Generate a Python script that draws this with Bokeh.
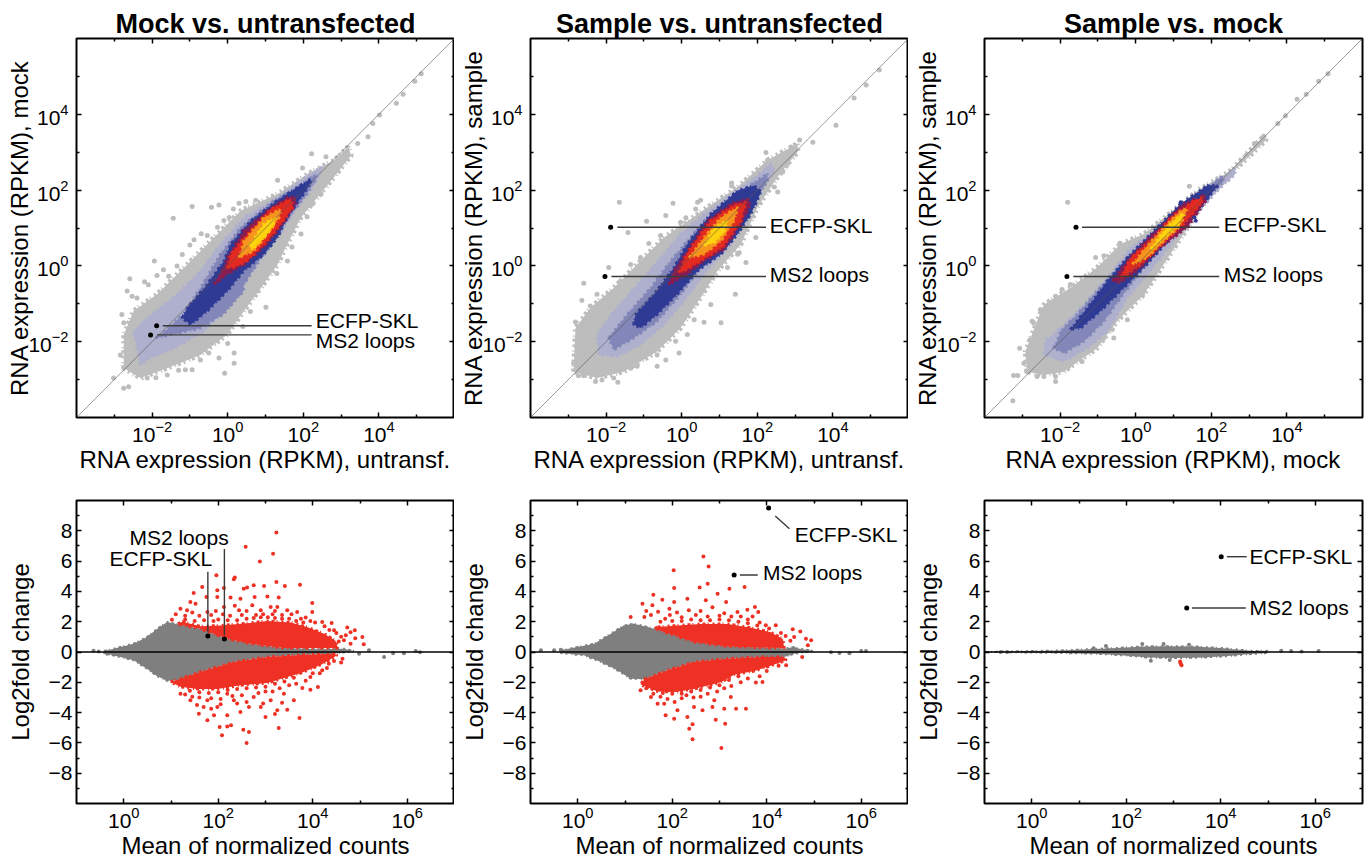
from bokeh.plotting import figure
from bokeh.layouts import column, row
from bokeh.models import LogAxis, LinearAxis, FixedTicker, LogTickFormatter, CustomJSTickFormatter
from bokeh.core.properties import value
from bokeh.embed import file_html
from bokeh.resources import INLINE

# ---- titles and labels
TITLES = ["Mock vs. untransfected", "Sample vs. untransfected", "Sample vs. mock"]
TOP_XLABELS = ["RNA expression (RPKM), untransf.", "RNA expression (RPKM), untransf.", "RNA expression (RPKM), mock"]
TOP_YLABELS = ["RNA expression (RPKM), mock", "RNA expression (RPKM), sample", "RNA expression (RPKM), sample"]
MA_XLABEL = "Mean of normalized counts"
MA_YLABEL = "Log2fold change"
LOG_MAJOR_TOP = [1e-2, 1e0, 1e2, 1e4]
LOG_MINOR_TOP = [1e-3, 1e-1, 1e1, 1e3, 1e5]
LOG_MAJOR_MA = [1e0, 1e2, 1e4, 1e6]
LOG_MINOR_MA = [1e1, 1e3, 1e5]
LFC_MAJOR = [-8, -6, -4, -2, 0, 2, 4, 6, 8]
LFC_MINOR = [-9, -7, -5, -3, -1, 1, 3, 5, 7, 9]

# ---- density bands of the expression scatter: outlines, (log10 x, log10 y)
BAND_COLORS = ["#bdbdbd", "#aeb0cd", "#8286b8", "#2f3a94", "#8a1d50", "#e32a20", "#f6941d", "#fdd20e"]

P1_BANDS = [
 [(-2.75,-2.70),(-2.75,-1.81),(-2.49,-1.19),(-1.87,-0.75),(-1.07,0.04),(-0.36,0.75),(0.35,1.46),(1.32,1.90),(2.12,2.43),(2.82,2.79),(3.18,3.14),(3.27,2.92),(2.82,2.35),(2.38,1.81),(1.94,1.28),(1.58,0.58),(1.32,0.04),(0.88,-0.58),(0.43,-1.19),(-0.01,-1.81),(-0.72,-2.35),(-1.60,-2.70),(-2.31,-2.96)],
 [(-2.31,-2.61),(-2.49,-1.73),(-2.13,-1.37),(-1.34,-0.75),(-0.72,-0.13),(-0.19,0.58),(0.43,1.28),(1.32,1.81),(1.94,2.26),(2.47,2.61),(2.47,2.43),(2.2,1.99),(1.85,1.55),(1.5,1.02),(1.05,0.4),(0.52,-0.31),(-0.01,-1.11),(-0.63,-1.73),(-1.42,-2.17),(-2.04,-2.43)],
 [(-1.9,-1.9),(-1.59,-1.67),(-1.17,-1.27),(-0.72,-0.58),(-0.19,0.31),(0.35,1.02),(1.23,1.73),(1.94,2.12),(2.34,2.43),(2.34,2.3),(2.03,1.81),(1.67,1.37),(1.32,0.84),(0.88,0.22),(0.43,-0.49),(0.42,-0.66),(-0.11,-1.27),(-0.72,-1.64)],
 [(-1.2,-1.37),(-1.07,-1.11),(-0.54,-0.49),(-0.1,0.13),(0.08,0.58),(0.61,1.19),(1.32,1.73),(1.85,2.08),(2.2,2.3),(2.16,2.12),(1.89,1.73),(1.58,1.28),(1.32,0.75),(0.96,0.31),(0.43,-0.13),(-0.01,-0.66),(-0.54,-1.19),(-0.98,-1.55)],
 [(-0.36,-0.49),(-0.1,-0.04),(-0.01,0.22),(0.43,0.93),(1.05,1.46),(1.58,1.81),(1.8,1.81),(1.8,1.64),(1.58,1.28),(1.32,0.93),(0.96,0.49),(0.43,0.04),(-0.01,-0.22)],
 [(-0.01,-0.04),(0.08,0.31),(0.52,0.84),(1.14,1.5),(1.67,1.77),(1.72,1.55),(1.41,1.11),(1.05,0.66),(0.52,0.13),(0.17,-0.04)],
 [(0.3,0.22),(0.43,0.66),(0.96,1.28),(1.41,1.5),(1.36,1.28),(1.05,0.84),(0.7,0.4)],
 [(0.57,0.53),(0.96,1.11),(1.27,1.28),(1.19,1.02),(0.88,0.66),(0.65,0.44)],
]
P2_BANDS = [
 [(-2.86,-2.79),(-2.81,-1.64),(-2.42,-1.11),(-1.8,-0.58),(-1.09,0.13),(-0.47,0.75),(0.06,1.11),(0.68,1.55),(1.48,2.08),(2.27,2.79),(3.07,3.23),(3.07,3.01),(2.54,2.35),(2.01,1.55),(1.57,0.58),(0.95,-0.13),(0.5,-0.84),(-0.03,-1.64),(-0.65,-2.26),(-1.53,-2.79),(-2.24,-2.96)],
 [(-2.19,-2.35),(-2.24,-1.81),(-1.8,-1.19),(-1.09,-0.4),(-0.56,0.22),(-0.03,0.84),(0.59,1.37),(1.39,1.95),(2.01,2.39),(2.36,2.7),(2.45,2.52),(2.1,1.99),(1.74,1.28),(1.3,0.58),(0.59,-0.22),(0.06,-0.93),(-0.47,-1.55),(-1.09,-2.08),(-1.71,-2.39)],
 [(-1.93,-1.9),(-1.44,-1.28),(-0.82,-0.58),(-0.29,0.13),(0.15,0.66),(0.68,1.28),(1.43,1.86),(2.01,2.26),(2.27,2.43),(2.27,2.26),(1.96,1.73),(1.61,1.19),(1.17,0.58),(0.5,-0.04),(-0.03,-0.75),(-0.65,-1.46),(-1.27,-1.9),(-1.8,-2.21)],
 [(-1.27,-1.55),(-1.22,-1.28),(-0.73,-0.75),(-0.2,-0.04),(0.15,0.58),(0.77,1.37),(1.48,1.99),(1.92,2.12),(2.1,1.95),(1.83,1.37),(1.48,0.84),(1.04,0.31),(0.42,-0.13),(-0.12,-0.75),(-0.65,-1.28),(-1.09,-1.64)],
 [(-0.34,-0.49),(-0.2,-0.13),(0.15,0.4),(0.68,1.19),(1.3,1.64),(1.74,1.77),(1.83,1.64),(1.57,1.11),(1.12,0.44),(0.59,0.13),(0.15,-0.22)],
 [(-0.07,-0.18),(0.15,0.35),(0.77,1.19),(1.35,1.59),(1.7,1.68),(1.57,1.19),(1.08,0.49),(0.5,0.13),(0.15,-0.09)],
 [(0.2,0.22),(0.59,0.75),(1.04,1.28),(1.48,1.55),(1.39,1.19),(1.04,0.66),(0.59,0.31)],
 [(0.59,0.53),(0.86,1.02),(1.21,1.19),(1.12,0.88),(0.86,0.62)],
]
P3_BANDS = [
 [(-2.88,-2.79),(-2.92,-2.26),(-2.61,-1.46),(-2.43,-1.02),(-1.73,-0.58),(-1.02,-0.04),(-0.4,0.58),(0.22,0.84),(1.64,1.99),(2.52,2.52),(3.41,3.45),(3.45,3.32),(2.52,2.43),(1.9,1.81),(0.22,-0.75),(-0.49,-1.46),(-1.02,-2.17),(-1.9,-2.79),(-2.43,-2.88)],
 [(-2.43,-2.35),(-2.39,-1.99),(-1.9,-1.55),(-1.37,-1.02),(-0.75,-0.31),(-0.13,0.49),(0.75,1.11),(1.81,1.95),(2.35,2.35),(2.61,2.57),(2.65,2.43),(2.17,1.99),(1.37,1.11),(0.31,-0.22),(-0.22,-0.84),(-0.75,-1.73),(-1.28,-2.17),(-1.9,-2.52)],
 [(-2.17,-2.17),(-1.95,-1.68),(-1.55,-1.28),(-1.02,-0.66),(-0.4,0.04),(0.22,0.66),(0.93,1.28),(1.9,2.08),(2.26,2.35),(2.35,2.26),(1.64,1.55),(0.93,0.75),(0.22,-0.04),(-0.4,-0.84),(-0.84,-1.46),(-1.37,-1.99),(-1.9,-2.3)],
 [(-1.73,-1.68),(-1.28,-1.11),(-0.75,-0.4),(-0.22,0.22),(0.31,0.75),(1.19,1.64),(1.9,2.12),(2.17,2.12),(1.73,1.55),(1.02,0.84),(0.22,-0.04),(-0.4,-0.66),(-0.93,-1.19),(-1.46,-1.64)],
 [(-0.62,-0.4),(-0.22,0.13),(0.31,0.71),(0.75,1.11),(1.19,1.59),(1.81,1.9),(1.86,1.73),(1.37,1.02),(0.66,0.49),(0.04,-0.13),(-0.4,-0.44)],
 [(-0.4,-0.31),(-0.13,0.22),(0.49,0.75),(0.93,1.28),(1.55,1.73),(1.77,1.81),(1.73,1.64),(1.28,1.11),(0.66,0.53),(0.13,0.04),(-0.22,-0.22)],
 [(-0.09,0.04),(0.31,0.53),(0.75,1.02),(1.19,1.46),(1.37,1.5),(1.15,1.02),(0.75,0.66),(0.31,0.22)],
 [(0.4,0.44),(0.75,0.93),(1.15,1.33),(1.28,1.37),(1.11,1.06),(0.75,0.75)],
]

# ---- individually visible grey genes, (log10 x, log10 y)
P1_GREY = [(-0.94,1.57),(-1.44,1.26),(-0.43,1.55),(-0.23,1.61),(-1.94,0.13),(-2.59,-0.34),(-2.2,-0.42),(-1.87,-0.25),(-2.66,-0.66),(-2.53,-0.8),(-2.8,-1.28),(-1.56,-0.27),(-1.34,0.0),(-0.89,0.69),(-0.54,0.8),(-0.27,1.02),(0.04,1.28),(0.3,1.65),(0.48,1.7),(0.74,1.73),(1.32,2.26),(1.98,2.58),(2.22,2.96),(2.6,2.88),(3.71,3.41),(3.44,3.23),(4.46,4.29),(4.64,4.53),(4.95,4.87),(5.12,5.07),(4.02,3.98),(3.84,3.76),(3.09,2.96),(2.47,1.9),(2.25,1.64),(1.94,0.84),(1.58,0.13),(1.01,-1.09),(0.79,-0.66),(0.17,-2.3),(0.17,-2.57),(-0.08,-2.83),(-0.23,-2.43),(-0.72,-2.48),(-0.94,-2.74),(-1.12,-2.74),(-1.6,-2.88),(-2.13,-2.96),(-2.62,-3.19),(-2.75,-3.23),(-3.02,-2.96),(-2.84,-2.35),(-2.75,-1.5),(-1.2,0.3),(-1.0,0.55),(-0.7,0.85),(-0.1,1.2),(0.15,1.5),(-1.7,-0.1),(-2.1,-0.5),(-2.4,-0.85),(0.6,-1.2),(0.9,-0.4),(1.3,-0.2),(1.7,0.5),(2.1,1.3),(0.4,-1.6),(0,-2.05),(-0.5,-2.3),(-1.3,-2.75),(-1.9,-2.95)]
P2_GREY = [(-1.65,1.68),(-0.23,1.65),(2.23,2.99),(1.32,2.19),(1.32,2.11),(-0.93,1.18),(-0.42,1.33),(-1.42,0.88),(-1.93,-0.04),(-2.59,-0.46),(-2.64,-0.91),(-2.81,-1.48),(-2.79,-2.12),(-2.86,-2.57),(-2.73,-2.9),(-2.59,-2.9),(-2.28,-3.05),(-1.69,-3.07),(-2.11,-3.01),(-1.18,-2.65),(-0.65,-2.65),(-0.42,-2.48),(-0.07,-2.3),(0.59,-1.49),(1.04,-1.5),(1.42,-0.75),(1.7,0.09),(1.96,0.75),(1.52,0.35),(2.54,1.95),(0.42,1.68),(0.37,1.5),(0.5,1.73),(0.11,1.27),(-0.03,1.15),(-0.56,0.8),(-0.87,0.59),(-1.09,0.22),(-1.35,0.04),(-1.62,-0.4),(-2.24,-0.75),(-2.42,-1.06),(-2.59,-1.64),(-2.68,-1.99),(0.77,-1.02),(0.33,-1.42),(0.15,-1.81),(-0.16,-1.99),(-0.65,-2.35),(-1.35,-2.7),(-1.8,-2.96),(1.21,-0.04),(1.48,0.31),(2.27,2.79),(2.81,2.7),(3.12,3.32),(2.89,3.14),(2.45,2.08),(2.67,2.48),(3.47,3.26),(4.08,3.71),(4.56,4.43),(4.88,4.77),(5.23,5.17)]
P3_GREY = [(-1.8,1.68),(-1.06,0.22),(-0.84,0.27),(-0.42,0.6),(1.42,2.1),(4.27,4.4),(3.96,3.96),(3.76,3.76),(4.51,4.53),(4.84,4.87),(5.09,5.07),(3.39,3.42),(3.14,3.23),(2.92,2.92),(-3.25,-3.56),(-3.23,-2.89),(-3.12,-2.89),(-3.07,-2.17),(-2.74,-1.46),(-2.52,-1.15),(-2.12,-0.8),(-1.95,-0.62),(-1.73,-0.49),(-1.33,-0.49),(-1.02,-0.27),(-2.12,-3.05),(-2.12,-2.92),(-2.43,-2.92),(-2.61,-2.92),(-1.42,-2.52),(-0.84,-1.9),(-0.58,-1.9),(-0.22,-1.42),(0.18,-0.75),(0.22,-0.44),(-0.13,0.58),(-0.62,-1.68),(-2.79,-1.95),(-2.7,-1.5),(-2.96,-2.57),(-2.88,-2.79),(-2.65,-2.7),(-1.77,-2.65)]
P3_BLUE = [(1.59,1.19),(1.55,1.28),(1.19,1.68),(1.64,1.81),(1.95,2.08)]

# ---- annotated transcripts in the expression panels, (log10 x, log10 y)
P1_ECFP, P1_MS2 = (-1.88, -1.58), (-2.04, -1.82)
P2_ECFP, P2_MS2 = (-1.88, 1.02), (-2.03, -0.28)
P3_ECFP, P3_MS2 = (-1.58, 1.02), (-1.82, -0.28)

# ---- MA plots: outlines of the solid regions, (log10 mean, log2 fold change)
M1_GREY_REGION = [(-0.42,0.07),(-0.21,0.22),(0.21,0.55),(0.49,0.99),(0.71,1.54),(0.92,1.98),(1.13,1.83),(1.62,1.54),(1.98,1.1),(2.33,0.77),(2.75,0.51),(3.39,0.26),(4.1,0.18),(4.66,0.22),(4.87,0.07),(4.45,-0.11),(3.74,-0.2),(3.04,-0.33),(2.33,-0.66),(1.62,-1.32),(1.13,-1.87),(0.92,-1.9),(0.71,-1.6),(0.49,-1.1),(0.21,-0.55),(-0.42,-0.07)]
M1_RED_UP = [(1.24,2.0),(1.62,1.7),(2.05,1.75),(2.61,1.9),(3.04,2.05),(3.53,1.95),(3.88,1.65),(4.24,1.2),(4.48,0.75),(4.53,0.26),(3.39,0.26),(2.75,0.51),(2.33,0.77),(1.98,1.1),(1.62,1.54),(1.13,1.83)]
M1_RED_DOWN = [(0.99,-1.98),(1.62,-1.32),(2.33,-0.66),(3.04,-0.33),(3.74,-0.2),(4.45,-0.11),(4.52,-0.22),(4.17,-0.85),(3.74,-1.4),(3.46,-1.65),(3.04,-2.05),(2.47,-2.2),(1.98,-2.45),(1.55,-2.45),(1.2,-2.3)]
M1_RED = [(3.23,7.88),(2.58,6.95),(3.16,6.49),(2.88,5.98),(1.96,5.06),(2.35,4.91),(2.33,4.8),(3.23,4.62),(3.73,4.44),(3.41,4.36),(1.66,4.29),(2.97,4.36),(2.75,4.4),(2.61,4.25),(2.54,4.18),(2.12,4.22),(1.98,4.07),(1.75,3.63),(1.48,3.89),(1.98,3.63),(2.26,3.59),(2.47,3.52),(2.77,3.63),(3.04,3.67),(3.28,3.59),(3.99,3.23),(1.41,3.3),(1.2,2.86),(1.02,2.13),(1.34,2.75),(1.52,3.19),(1.77,2.64),(2.12,2.97),(2.44,2.75),(2.72,3.08),(2.9,2.75),(3.11,2.97),(3.25,2.97),(3.46,2.75),(3.67,2.64),(3.85,2.27),(3.99,2.64),(4.2,1.98),(4.4,1.91),(4.73,1.61),(4.89,1.43),(5.05,0.99),(4.8,0.55),(5.08,0.51),(4.66,0.77),(4.45,1.43),
 (1.1,2.5),(1.3,2.4),(1.45,2.6),(1.6,2.4),(1.85,2.45),(1.95,2.7),(2.1,2.5),(2.25,2.4),(2.35,3.05),(2.5,2.45),(2.6,2.7),(2.8,2.45),(2.95,2.5),(3.15,2.5),(3.2,2.7),(3.35,2.45),(3.55,2.5),(3.75,2.2),(3.95,2.05),(4.05,1.95),(4.25,1.7),(4.35,1.45),(4.5,1.25),(4.6,1.0),(4.7,1.1),(4.55,0.7),(4.8,1.3),(4.9,0.9),
 (1.3,2.15),(1.5,2.05),(1.7,2.1),(1.9,2.05),(2.0,2.15),(2.2,2.1),(2.4,2.1),(2.6,2.2),(2.75,2.25),(2.9,2.3),(3.05,2.3),(3.2,2.25),(3.35,2.2),(3.5,2.2),(3.65,2.05),(3.8,1.95),
 (2.6,-6.01),(2.65,-5.28),(2.53,-5.13),(2.08,-5.5),(2.03,-4.95),(2.27,-4.84),(2.19,-4.91),(3.28,-5.02),(3.72,-4.36),(1.77,-4.51),(1.59,-4.07),(1.91,-4.18),(2.19,-4.18),(2.47,-3.96),(3.0,-4.29),(3.25,-3.85),(3.46,-3.81),(3.6,-3.19),(3.95,-2.49),(4.11,-2.31),(3.78,-2.38),(4.34,-0.77),(4.63,-0.44),(4.2,-1.21),(3.95,-1.65),(2.9,-3.63),(2.65,-3.63),(2.33,-3.19),(1.98,-3.63),(1.69,-3.63),(1.41,-3.19),(1.2,-2.75),(1.77,-3.19),(2.19,-2.75),(2.75,-2.97),(3.11,-3.19),(3.39,-2.75),
 (1.3,-2.8),(1.45,-2.95),(1.6,-3.0),(1.85,-3.05),(2.05,-3.1),(2.3,-2.9),(2.5,-2.85),(2.6,-3.3),(2.85,-2.7),(3.0,-2.6),(3.15,-2.6),(3.3,-2.4),(3.5,-2.2),(3.65,-2.1),(3.85,-1.9),(4.0,-1.4),(4.15,-1.4),(4.3,-1.05),(4.45,-0.6),(4.6,-0.7),(2.4,-3.4),(2.95,-3.4),(1.55,-3.5),(1.85,-3.75),(2.05,-3.45),(3.2,-4.1),(3.35,-3.35),
 (1.4,-2.55),(1.6,-2.65),(1.8,-2.7),(2.0,-2.65),(2.2,-2.5),(2.4,-2.45),(2.6,-2.4),(2.8,-2.35),(3.0,-2.3),(3.2,-2.1),(3.4,-1.95),(3.6,-1.7)]
M1_GREY = [(5.51,-0.33),(5.7,-0.09),(5.93,-0.09),(6.18,0.07),(6.27,-0.02),(5.19,0.11),(4.98,-0.11),(-0.64,0.09),(-0.53,0.04),(-0.35,-0.11),(-0.18,-0.15)]

M2_GREY_REGION = [(-0.36,0.11),(0.35,0.55),(0.7,1.21),(0.98,1.76),(1.19,1.87),(1.62,1.54),(2.04,1.1),(2.46,0.66),(3.17,0.37),(3.88,0.29),(4.37,0.22),(4.58,0.33),(4.69,0.22),(5.01,0.07),(4.58,-0.11),(4.37,-0.33),(3.88,-0.33),(3.17,-0.44),(2.46,-0.66),(1.9,-1.21),(1.41,-1.8),(1.12,-1.76),(0.84,-1.21),(0.49,-0.66),(0.13,-0.22),(-0.36,-0.07)]
M2_RED_UP = [(1.69,1.65),(2.11,1.75),(2.61,1.85),(3.17,1.85),(3.67,1.6),(4.09,1.3),(4.34,0.85),(4.37,0.26),(3.88,0.29),(3.17,0.37),(2.46,0.66),(2.04,1.1),(1.62,1.54)]
M2_RED_DOWN = [(1.41,-1.8),(1.9,-1.21),(2.46,-0.66),(3.17,-0.44),(3.88,-0.33),(4.37,-0.33),(4.41,-0.55),(4.09,-0.9),(3.74,-1.25),(3.31,-1.5),(3.03,-2.0),(2.46,-2.45),(2.04,-2.65),(1.69,-2.6),(1.33,-2.15)]
M2_RED = [(2.66,6.31),(2.77,5.65),(2.03,5.39),(2.75,4.51),(2.04,4.22),(2.58,4.25),(3.21,4.18),(3.53,4.29),(3.14,3.3),(3.75,2.97),(3.82,2.64),(1.37,3.19),(1.12,2.31),(1.6,3.78),(1.79,3.45),(1.94,2.86),(1.41,2.31),(1.58,3.08),(2.04,3.3),(2.32,3.52),(2.71,3.41),(2.96,3.85),(3.38,2.64),(3.59,2.79),(3.98,1.76),(4.19,1.76),(4.55,1.5),(4.71,1.36),(4.83,0.88),(4.94,0.77),(4.87,0.44),(4.58,0.99),
 (1.45,2.7),(1.55,2.45),(1.7,2.65),(1.85,2.2),(1.95,2.45),(2.1,2.6),(2.2,2.3),(2.35,2.75),(2.5,2.45),(2.6,2.7),(2.75,2.35),(2.85,2.95),(3.0,2.4),(3.1,2.55),(3.25,2.35),(3.45,2.35),(3.6,2.15),(3.7,2.35),(3.85,1.95),(4.05,1.55),(4.3,1.25),(4.4,1.05),(4.5,0.75),
 (1.75,2.0),(2.0,2.05),(2.2,2.05),(2.4,2.15),(2.6,2.1),(2.8,2.1),(3.0,2.15),(3.2,2.1),(3.4,2.0),(3.6,1.9),(3.8,1.75),
 (2.43,-5.76),(3.04,-6.34),(2.92,-4.47),(3.12,-4.73),(2.43,-4.77),(2.36,-5.06),(2.32,-4.29),(1.86,-4.18),(2.04,-4.4),(2.11,-3.85),(2.64,-3.85),(2.85,-3.63),(3.1,-3.74),(3.35,-3.74),(3.56,-3.74),(3.24,-2.97),(3.91,-1.98),(3.77,-2.02),(4.41,-0.88),(4.75,-0.33),(1.55,-2.97),(1.69,-3.41),(1.83,-3.41),(1.33,-2.53),(2.46,-3.63),(2.89,-3.19),
 (1.45,-2.4),(1.6,-2.75),(1.75,-2.95),(1.9,-3.1),(2.05,-3.3),(2.2,-3.05),(2.3,-2.85),(2.45,-3.0),(2.6,-2.95),(2.75,-2.75),(2.95,-2.6),(3.1,-2.4),(3.25,-2.25),(3.45,-2.0),(3.6,-1.75),(3.85,-1.6),(4.0,-1.25),(4.25,-0.9),
 (1.8,-2.7),(2.0,-2.75),(2.2,-2.75),(2.4,-2.6),(2.6,-2.5),(2.8,-2.35),(3.0,-2.2),(3.2,-1.85),(3.4,-1.6)]
M2_GREY = [(5.36,-0.02),(5.54,-0.07),(5.75,-0.09),(6.0,0.07),(6.1,0.07),(-0.78,0.11),(-0.5,0.11),(-0.36,0.15)]

M3_GREY_REGION = [(-0.97,0.0),(-0.09,0.06),(0.61,0.1),(1.32,0.2),(1.81,0.27),(2.38,0.37),(2.87,0.38),(3.44,0.36),(4.0,0.27),(4.43,0.14),(4.71,0.06),(4.99,0.09),(4.99,-0.07),(4.64,-0.13),(4.15,-0.27),(3.65,-0.36),(3.02,-0.4),(2.45,-0.36),(2.03,-0.24),(1.46,-0.13),(0.61,-0.06),(-0.09,-0.03)]
M3_RED = [(3.14,-0.62),(3.15,-0.75),(3.17,-0.88)]
M3_GREY = [(2.34,0.53),(1.57,0.4),(2.79,0.53),(3.33,0.48),(2.52,-0.57),(2.92,-0.53),(1.31,0.24),(5.28,0.09),(5.49,0.07),(5.71,0.04),(6.07,0.07),(-0.66,0.0),(-0.52,0.0)]

# ---- annotated transcripts in the MA panels, (log10 mean, log2 fold change)
M1_ECFP, M1_MS2 = (1.78, 1.06), (2.13, 0.86)
M2_ECFP, M2_MS2 = (4.04, 9.5), (3.31, 5.08)
M3_ECFP, M3_MS2 = (4.01, 6.29), (3.28, 2.9)

FONT = "Liberation Sans"
RED, GREY, DOT = "#ee3124", "#7f7f7f", "#bdbdbd"
LINE = "#3a3a3a"
TICK_PT = "21px"
LABEL_PT = "24px"
NOTE_PT = "21px"
TITLE_PT = "27px"
EDGE_DASH = "3 2 1 4 2 3"


def xs(pts):
    return [10 ** a for a, _ in pts]


def ys_log(pts):
    return [10 ** b for _, b in pts]


def ys(pts):
    return [b for _, b in pts]


def style_axis(ax, standoff=3, show=True, label_standoff=0):
    ax.axis_line_color = None
    ax.major_tick_line_color = "black"
    ax.minor_tick_line_color = "black"
    ax.major_tick_line_width = 1.5
    ax.minor_tick_line_width = 1.5
    ax.major_tick_in, ax.major_tick_out = 5, 0
    ax.minor_tick_in, ax.minor_tick_out = 3, 0
    ax.major_label_text_font = FONT
    ax.major_label_text_font_size = TICK_PT if show else "1px"
    ax.major_label_text_color = "black"
    ax.major_label_standoff = standoff
    ax.axis_label_text_font = FONT
    ax.axis_label_text_font_style = "normal"
    ax.axis_label_text_font_size = LABEL_PT
    ax.axis_label_text_color = "black"
    ax.axis_label_standoff = label_standoff
    if not show:
        ax.formatter = CustomJSTickFormatter(code="return ' '")
        ax.major_label_standoff = -4


def base(width, height, right, bottom, top, xr, yr, ylog, fh):
    p = figure(width=width, height=height, frame_width=378, frame_height=fh,
               min_border_left=76, min_border_right=right, min_border_top=top, min_border_bottom=bottom,
               x_axis_type="log", y_axis_type="log" if ylog else "linear",
               x_range=xr, y_range=yr, output_backend="svg", toolbar_location=None)
    p.grid.visible = False
    p.outline_line_color = "black"
    p.outline_line_width = 2
    p.background_fill_color = "white"
    return p


def frame_axes(p, xmaj, xmin, ymaj, ymin, ylog, x_label_off, y_label_off):
    for ax in p.xaxis:
        ax.ticker = FixedTicker(ticks=xmaj, minor_ticks=xmin)
        ax.formatter = LogTickFormatter()
        style_axis(ax, 3, label_standoff=x_label_off)
    for ax in p.yaxis:
        ax.ticker = FixedTicker(ticks=ymaj, minor_ticks=ymin)
        if ylog:
            ax.formatter = LogTickFormatter()
        style_axis(ax, 8 if ylog else 4, label_standoff=y_label_off)
    top = LogAxis(ticker=FixedTicker(ticks=xmaj, minor_ticks=xmin))
    style_axis(top, show=False)
    p.add_layout(top, "above")
    right = LogAxis(ticker=FixedTicker(ticks=ymaj, minor_ticks=ymin)) if ylog else LinearAxis(ticker=FixedTicker(ticks=ymaj, minor_ticks=ymin))
    style_axis(right, show=False)
    p.add_layout(right, "right")


def note(p, x, y, txt):
    p.text([x], [y], text=[txt], text_font=value(FONT), text_font_size=value(NOTE_PT),
           text_baseline="alphabetic", text_align="left", text_color="black")


def scatter_top(title, xlabel, ylabel, bands, grey, ecfp, ms2, right, width, ex_end, ms_end, tx, ty1, ty2):
    p = base(width, 38 + 379 + 75, right, 75, 38, (1e-4, 1e6), (1e-4, 1e6), True, 379)
    p.title.text = title
    p.title.align = "center"
    p.title.text_font = FONT
    p.title.text_font_style = "bold"
    p.title.text_font_size = TITLE_PT
    p.title.text_color = "black"
    p.title.standoff = 0
    p.patch(xs(bands[0]), ys_log(bands[0]), fill_color=BAND_COLORS[0], line_color=BAND_COLORS[0], line_width=5, line_dash=EDGE_DASH)
    p.scatter(xs(grey), ys_log(grey), size=5, color=DOT, line_width=0)
    for band, col in zip(bands[1:], BAND_COLORS[1:]):
        p.patch(xs(band), ys_log(band), fill_color=col, line_color=col, line_width=3, line_dash=EDGE_DASH)
    p.line([1e-4, 1e6], [1e-4, 1e6], line_color="#555555", line_width=0.8, line_alpha=0.75)
    for pt, start, end in ((ecfp, ex_end[0], ex_end[1]), (ms2, ms_end[0], ms_end[1])):
        p.line([10 ** start, 10 ** end], [10 ** pt[1], 10 ** pt[1]], line_color=LINE, line_width=1.4)
        p.scatter([10 ** pt[0]], [10 ** pt[1]], size=5, color="black", line_width=0)
    note(p, 10 ** tx, 10 ** ty1, "ECFP-SKL")
    note(p, 10 ** tx, 10 ** ty2, "MS2 loops")
    p.xaxis[0].axis_label = xlabel
    p.yaxis[0].axis_label = ylabel
    frame_axes(p, LOG_MAJOR_TOP, LOG_MINOR_TOP, LOG_MAJOR_TOP, LOG_MINOR_TOP, True, 1, -8)
    return p


def ma(grey_region, reds, red_pts, grey_pts, right, width):
    p = base(width, 8 + 303 + 55, right, 55, 8, (1e-1, 1e7), (-10, 10), False, 303)
    p.patch(xs(grey_region), ys(grey_region), fill_color=GREY, line_color=GREY, line_width=2, line_dash=EDGE_DASH)
    for poly in reds:
        p.patch(xs(poly), ys(poly), fill_color=RED, line_color=RED, line_width=3, line_dash=EDGE_DASH)
    p.scatter(xs(red_pts), ys(red_pts), size=4, color=RED, line_width=0)
    p.scatter(xs(grey_pts), ys(grey_pts), size=4, color=GREY, line_width=0)
    p.line([1e-1, 1e7], [0, 0], line_color="black", line_width=1.4)
    p.xaxis[0].axis_label = MA_XLABEL
    p.yaxis[0].axis_label = MA_YLABEL
    frame_axes(p, LOG_MAJOR_MA, LOG_MINOR_MA, LFC_MAJOR, LFC_MINOR, False, 1, 12)
    return p


def seg(p, pts):
    p.line(xs(pts), ys(pts), line_color=LINE, line_width=1.4)


def dots(p, pts):
    p.scatter(xs(pts), ys(pts), size=5, color="black", line_width=0)


t1 = scatter_top(TITLES[0], TOP_XLABELS[0], TOP_YLABELS[0], P1_BANDS, P1_GREY, P1_ECFP, P1_MS2, 0, 454, (-1.72, 2.22), (-1.87, 2.22), 2.33, -1.43, -1.96)
t2 = scatter_top(TITLES[1], TOP_XLABELS[1], TOP_YLABELS[1], P2_BANDS, P2_GREY, P2_ECFP, P2_MS2, 0, 454, (-1.7, 2.23), (-1.86, 2.23), 2.33, 1.06, -0.24)
t3 = scatter_top(TITLES[2], TOP_XLABELS[2], TOP_YLABELS[2], P3_BANDS, P3_GREY, P3_ECFP, P3_MS2, 8, 462, (-1.42, 2.21), (-1.65, 2.21), 2.33, 1.08, -0.24)
t3.scatter(xs(P3_BLUE), ys_log(P3_BLUE), size=4, color=BAND_COLORS[3], line_width=0)

b1 = ma(M1_GREY_REGION, [M1_RED_UP, M1_RED_DOWN], M1_RED, M1_GREY, 0, 454)
b2 = ma(M2_GREY_REGION, [M2_RED_UP, M2_RED_DOWN], M2_RED, M2_GREY, 0, 454)
b3 = ma(M3_GREY_REGION, [], M3_RED, M3_GREY, 8, 462)

# annotations on the MA panels
seg(b1, [(M1_ECFP[0], 1.3), (M1_ECFP[0], 5.3)])
seg(b1, [(M1_MS2[0], 1.1), (M1_MS2[0], 6.8)])
dots(b1, [M1_ECFP, M1_MS2])
note(b1, 10 ** 0.12, 7.57, "MS2 loops")
note(b1, 10 ** -0.30, 6.19, "ECFP-SKL")

seg(b2, [(4.18, 8.98), (4.48, 8.14)])
seg(b2, [(3.43, 5.08), (3.81, 5.08)])
dots(b2, [M2_ECFP, M2_MS2])
note(b2, 10 ** 4.59, 7.77, "ECFP-SKL")
note(b2, 10 ** 3.92, 5.26, "MS2 loops")

seg(b3, [(4.13, 6.29), (4.55, 6.29)])
seg(b3, [(3.39, 2.9), (4.53, 2.9)])
dots(b3, [M3_ECFP, M3_MS2])
note(b3, 10 ** 4.61, 6.32, "ECFP-SKL")
note(b3, 10 ** 4.61, 2.93, "MS2 loops")

page = column(row(t1, t2, t3), row(b1, b2, b3))
open("out.html", "w").write(file_html(page, INLINE))
